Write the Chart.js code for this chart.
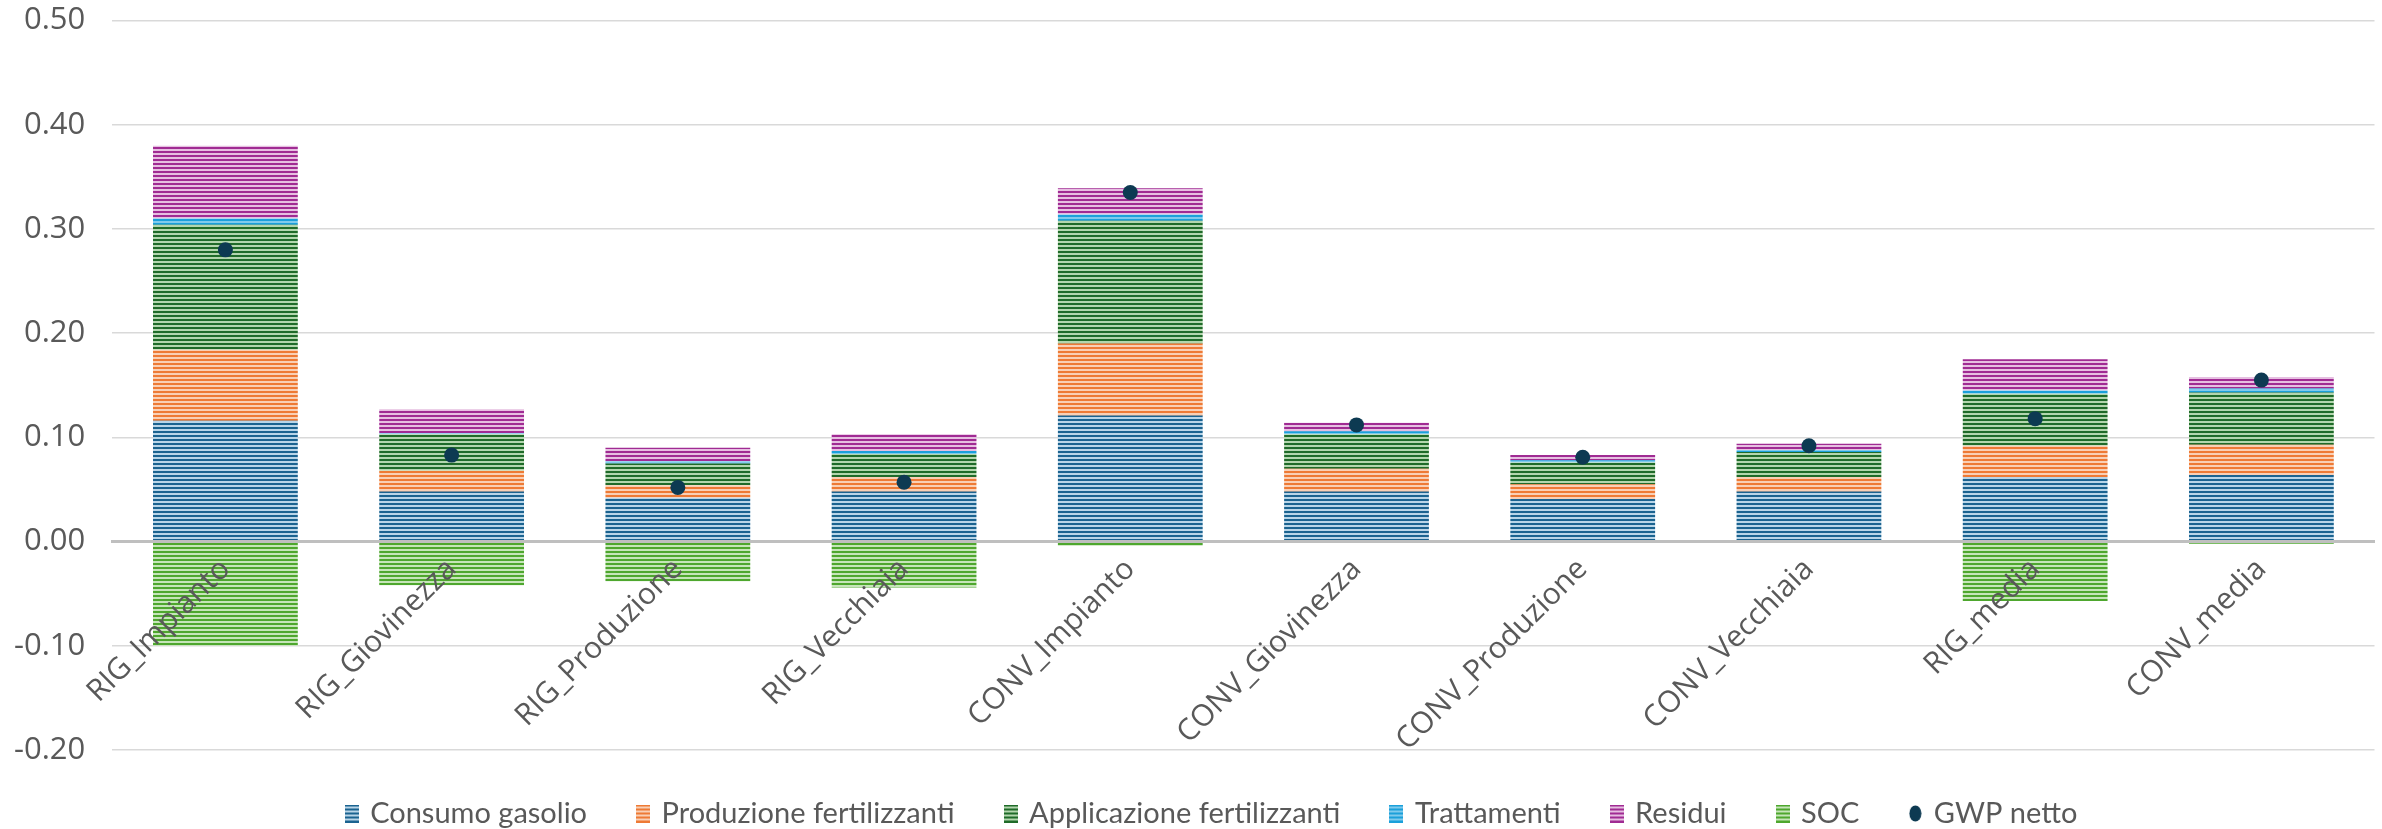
<!DOCTYPE html>
<html lang="it">
<head>
<meta charset="utf-8">
<title>GWP per fase</title>
<script src="https://cdn.jsdelivr.net/npm/chart.js@4.4.1/dist/chart.umd.min.js"></script>
<style>
    html, body { margin: 0; padding: 0; background: #ffffff; overflow: hidden; }
    /* il grafico sale di 25px: Chart.js lascia sopra metà etichetta + padding */
    #contenitore { width: 2382px; height: 854px; margin-top: -25px; }
</style>
</head>
<body>
<div id="contenitore"><canvas id="graficoGwp"></canvas></div>
<script>
const categorie = [
    "RIG_Impianto", "RIG_Giovinezza", "RIG_Produzione", "RIG_Vecchiaia",
    "CONV_Impianto", "CONV_Giovinezza", "CONV_Produzione", "CONV_Vecchiaia",
    "RIG_media", "CONV_media",
];

const consumoGasolio = [0.116, 0.048, 0.042, 0.048, 0.121, 0.048, 0.041, 0.048, 0.062, 0.064];
const produzioneFertilizzanti = [0.068, 0.020, 0.012, 0.014, 0.069, 0.022, 0.014, 0.014, 0.030, 0.029];
const applicazioneFertilizzanti = [0.120, 0.035, 0.021, 0.022, 0.118, 0.033, 0.021, 0.024, 0.050, 0.050];
const trattamenti = [0.006, 0.001, 0.002, 0.003, 0.006, 0.003, 0.002, 0.002, 0.003, 0.004];
const residui = [0.070, 0.023, 0.013, 0.016, 0.025, 0.008, 0.005, 0.006, 0.030, 0.011];
const soc = [-0.100, -0.042, -0.038, -0.044, -0.004, -0.001, -0.001, -0.001, -0.057, -0.002];
const gwpNetto = [0.280, 0.083, 0.052, 0.057, 0.335, 0.112, 0.081, 0.092, 0.118, 0.155];

const tickY = [-0.2, -0.1, 0.0, 0.1, 0.2, 0.3, 0.4, 0.5];

const coloreNetto = "#0d3a52";

// riempimento a strisce orizzontali come in Excel
function disegnaStrisce(g, w, h, scuro, chiaro) {
    g.fillStyle = chiaro;
    g.fillRect(0, 0, w, h);
    g.fillStyle = scuro;
    for (let y = 0; y < h; y += 4) {
        g.fillRect(0, y, w, 2);
    }
}

function strisce(scuro, chiaro) {
    const c = document.createElement("canvas");
    c.width = 4;
    c.height = 4;
    disegnaStrisce(c.getContext("2d"), 4, 4, scuro, chiaro);
    return c.getContext("2d").createPattern(c, "repeat");
}

// simboli della legenda
function iconaBarra(scuro, chiaro) {
    const c = document.createElement("canvas");
    c.width = 14;
    c.height = 18;
    disegnaStrisce(c.getContext("2d"), 14, 18, scuro, chiaro);
    return c;
}

function iconaPunto() {
    const c = document.createElement("canvas");
    c.width = 13;
    c.height = 17;
    const g = c.getContext("2d");
    g.fillStyle = coloreNetto;
    g.beginPath();
    g.ellipse(6.5, 8.5, 6, 8, 0, 0, Math.PI * 2);
    g.fill();
    return c;
}

function serieBarre(nome, valori, scuro, chiaro) {
    return {
        type: "bar",
        label: nome,
        data: valori,
        backgroundColor: strisce(scuro, chiaro),
        icona: iconaBarra(scuro, chiaro),
        borderWidth: 0,
        stack: "fasi",
        order: 1,
        categoryPercentage: 1,
        barPercentage: 0.64,
    };
}

// sposta la legenda un po' a destra e in alto come nell'originale
const spostaLegenda = {
    id: "spostaLegenda",
    afterLayout(chart) {
        chart.legend.left += 31;
        chart.legend.right += 31;
        chart.legend.top -= 3;
        chart.legend.bottom -= 3;
    },
};

const ctx = document.getElementById("graficoGwp").getContext("2d");
new Chart(ctx, {
    data: {
        labels: categorie,
        datasets: [
            serieBarre("Consumo gasolio", consumoGasolio, "#1b6390", "#b9d5e8"),
            serieBarre("Produzione fertilizzanti", produzioneFertilizzanti, "#ee7a35", "#f9d0b6"),
            serieBarre("Applicazione fertilizzanti", applicazioneFertilizzanti, "#1f6b29", "#b3d6ae"),
            serieBarre("Trattamenti", trattamenti, "#1ba0da", "#7fcbed"),
            serieBarre("Residui", residui, "#a02b93", "#e6bfe1"),
            serieBarre("SOC", soc, "#4ea72e", "#c6e5b9"),
            {
                type: "line",
                label: "GWP netto",
                data: gwpNetto,
                icona: iconaPunto(),
                showLine: false,
                stack: "netto",
                order: 0,
                pointRadius: 7.5,
                pointHoverRadius: 7.5,
                pointBackgroundColor: coloreNetto,
                pointBorderWidth: 0,
                backgroundColor: coloreNetto,
                borderColor: coloreNetto,
            },
        ],
    },
    plugins: [spostaLegenda],
    options: {
        responsive: true,
        maintainAspectRatio: false,
        animation: false,
        layout: {
            padding: { left: -13, right: 6, top: 0, bottom: -12 },
        },
        plugins: {
            tooltip: { enabled: false },
            legend: {
                position: "bottom",
                labels: {
                    sort: (a, b) => a.datasetIndex - b.datasetIndex,
                    font: { family: "Lato", size: 29 },
                    color: "#595959",
                    usePointStyle: true,
                    pointStyleWidth: 8,
                    boxHeight: 18,
                    padding: 52,
                    generateLabels: (chart) => {
                        const base = Chart.defaults.plugins.legend.labels.generateLabels(chart);
                        return base.map((item) => {
                            item.pointStyle = chart.data.datasets[item.datasetIndex].icona;
                            item.lineWidth = 0;
                            return item;
                        });
                    },
                },
            },
        },
        scales: {
            x: {
                stacked: true,
                position: { y: 0 },
                grid: { display: false, drawTicks: false },
                border: { display: true, color: "#bfbfbf", width: 3, z: 1 },
                ticks: {
                    z: 1,
                    autoSkip: false,
                    maxRotation: 45,
                    minRotation: 45,
                    padding: 10,
                    color: "#595959",
                    font: { family: "Open Sans", size: 30 },
                },
            },
            y: {
                stacked: true,
                min: -0.2,
                max: 0.5,
                afterBuildTicks: (scala) => {
                    scala.ticks = tickY.map((v) => ({ value: v }));
                },
                grid: { color: "#d9d9d9", lineWidth: 1.5, drawTicks: false },
                border: { display: false },
                ticks: {
                    padding: 27,
                    color: "#595959",
                    font: { family: "Open Sans", size: 31 },
                    callback: (v) => Number(v).toFixed(2),
                },
            },
        },
    },
});
</script>
</body>
</html>
